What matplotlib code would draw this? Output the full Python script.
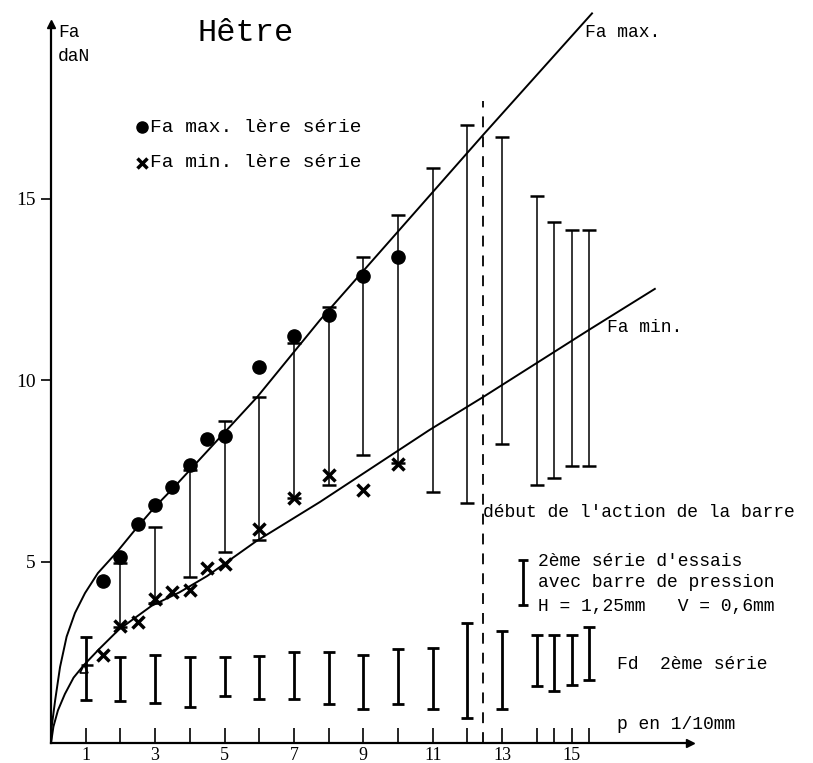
import matplotlib
matplotlib.use("Agg")
import matplotlib.pyplot as plt

# Fa max. 1ere serie (points)
max_x = [1.5, 2, 2.5, 3, 3.5, 4, 4.5, 5, 6, 7, 8, 9, 10]
max_y = [4.46, 5.12, 6.03, 6.56, 7.05, 7.66, 8.37, 8.46, 10.36, 11.21, 11.79, 12.87, 13.39]

# Fa min. 1ere serie (crosses)
min_x = [1.5, 2, 2.5, 3, 3.5, 4, 4.5, 5, 6, 7, 8, 9, 10]
min_y = [2.42, 3.22, 3.33, 3.97, 4.16, 4.21, 4.82, 4.93, 5.90, 6.75, 7.38, 6.97, 7.69]

# 2eme serie, Fa range (thin bars)
fa_bar_x = [2, 3, 4, 5, 6, 7, 8, 9, 10, 11, 12, 13, 14, 14.5, 15, 15.5]
fa_low = [3.20, 3.86, 4.57, 5.27, 5.59, 6.75, 7.11, 7.93, 7.71, 6.92, 6.60, 8.23, 7.11, 7.29, 7.63, 7.63]
fa_high = [4.96, 5.95, 7.52, 8.87, 9.54, 11.01, 12.02, 13.40, 14.55, 15.83, 17.02, 16.69, 15.08, 14.36, 14.13, 14.13]

# Fd 2eme serie (thick bars)
fd_x = [1, 2, 3, 4, 5, 6, 7, 8, 9, 10, 11, 12, 13, 14, 14.5, 15, 15.5]
fd_low = [1.18, 1.16, 1.11, 0.98, 1.29, 1.22, 1.20, 1.07, 0.95, 1.07, 0.95, 0.68, 0.95, 1.57, 1.44, 1.60, 1.74]
fd_high = [2.93, 2.38, 2.42, 2.38, 2.36, 2.40, 2.52, 2.52, 2.42, 2.58, 2.61, 3.31, 3.09, 2.98, 2.98, 2.98, 3.20]

# hand drawn trend curves
cmax_x = [0, 0.02, 0.12, 0.26, 0.45, 0.69, 0.98, 1.35, 1.89, 2.42, 2.99, 3.52, 5.94, 7.75, 12.45, 15.59]
cmax_y = [0, 0.45, 1.18, 2.09, 2.93, 3.58, 4.13, 4.68, 5.25, 5.87, 6.50, 7.02, 9.53, 11.65, 16.75, 20.1]
cmin_x = [0, 0.07, 0.2, 0.4, 0.65, 0.95, 1.4, 1.95, 2.9, 3.7, 4.5, 5.9, 7.75, 9.5, 10.9, 12.45, 15.5, 17.4]
cmin_y = [0, 0.45, 0.9, 1.35, 1.8, 2.15, 2.6, 3.12, 3.78, 4.15, 4.60, 5.55, 6.64, 7.74, 8.62, 9.53, 11.38, 12.51]

barre_x = 12.45   # debut de l'action de la barre
barre_top = 17.7

xt_major = [1, 3, 5, 7, 9, 11, 13, 15]
xt_minor = [2, 4, 6, 8, 10, 12, 14, 14.5, 15.5]
yt = [5, 10, 15]

mono = "Liberation Mono"
serif = "Liberation Serif"

fig = plt.figure(figsize=(8.13, 7.63), dpi=100)
ax = fig.add_axes([51 / 813, 20 / 763, 642 / 813, 740.5 / 763])
ax.set_xlim(0, 18.5)
ax.set_ylim(0, 20.4)

for s in ["top", "right"]:
    ax.spines[s].set_visible(False)
ax.spines["left"].set_bounds(0, 19.8)
ax.spines["bottom"].set_bounds(0, 18.4)
ax.spines["left"].set_linewidth(1.6)
ax.spines["bottom"].set_linewidth(1.6)
ax.plot(0, 19.8, "^k", ms=6, clip_on=False)
ax.plot(18.4, 0, ">k", ms=6, clip_on=False)

ax.set_xticks(xt_major)
ax.set_xticks(xt_minor, minor=True)
ax.set_yticks(yt)
ax.tick_params(axis="x", which="both", direction="in", length=11, width=1.2, pad=3)
ax.tick_params(axis="x", which="major", labelsize=13)
ax.tick_params(axis="y", direction="out", length=7, width=1.2, pad=4, labelsize=14)
for lab in ax.get_xticklabels() + ax.get_yticklabels():
    lab.set_family(serif)

# curves
ax.plot(cmax_x, cmax_y, color="k", lw=1.4, clip_on=False)
ax.plot(cmin_x, cmin_y, color="k", lw=1.4)

# thin Fa bars
ax.vlines(fa_bar_x, fa_low, fa_high, color="k", lw=1.1)
ax.plot(fa_bar_x, fa_low, "_", color="k", ms=10, mew=1.8)
ax.plot(fa_bar_x, fa_high, "_", color="k", ms=10, mew=1.8)

# thick Fd bars
ax.vlines(fd_x, fd_low, fd_high, color="k", lw=2.0)
ax.plot(fd_x, fd_low, "_", color="k", ms=9, mew=2.0)
ax.plot(fd_x, fd_high, "_", color="k", ms=9, mew=2.0)
ax.plot([1.05], [2.15], "_", color="k", ms=9, mew=1.8)
ax.plot([0.95], [2.05], "^", mfc="none", mec="k", ms=6, mew=1.2)

# points
ax.plot(max_x, max_y, "o", color="k", ms=9.5, ls="none")
ax.plot(min_x, min_y, "x", color="k", ms=8, mew=2.5, ls="none")

# start of the pressure bar
ax.vlines(barre_x, 0, barre_top, color="k", lw=1.3, linestyles=(0, (6, 5)))

# labels
ax.text(0.2, 19.56, "Fa", family=mono, fontsize=13, va="center")
ax.text(0.2, 18.9, "daN", family=mono, fontsize=13, va="center")
ax.text(5.62, 19.56, "Hêtre", family=mono, fontsize=23, va="center", ha="center")

ax.plot([2.62], [16.97], "o", color="k", ms=8)
ax.text(2.85, 16.97, "Fa max. lère série", family=mono, fontsize=14, va="center")
ax.plot([2.62], [15.98], "x", color="k", ms=7, mew=2.5)
ax.text(2.85, 15.98, "Fa min. lère série", family=mono, fontsize=14, va="center")

ax.text(15.39, 19.56, "Fa max.", family=mono, fontsize=13, va="center", clip_on=False)
ax.text(16.02, 11.46, "Fa min.", family=mono, fontsize=13, va="center", clip_on=False)
ax.text(barre_x, 6.34, "début de l'action de la barre", family=mono, fontsize=13,
        va="center", clip_on=False)

ax.vlines(13.6, 3.80, 5.04, color="k", lw=2.0)
ax.plot([13.6, 13.6], [3.80, 5.04], "_", color="k", ms=7, mew=2.0)
ax.text(14.03, 5.01, "2ème série d'essais", family=mono, fontsize=13, va="center", clip_on=False)
ax.text(14.03, 4.41, "avec barre de pression", family=mono, fontsize=13, va="center", clip_on=False)
ax.text(14.03, 3.75, "H = 1,25mm   V = 0,6mm", family=mono, fontsize=13, va="center", clip_on=False)
ax.text(16.31, 2.15, "Fd  2ème série", family=mono, fontsize=13, va="center", clip_on=False)
ax.text(16.31, 0.50, "p en 1/10mm", family=mono, fontsize=13, va="center", clip_on=False)

fig.savefig("out.png", dpi=100)
